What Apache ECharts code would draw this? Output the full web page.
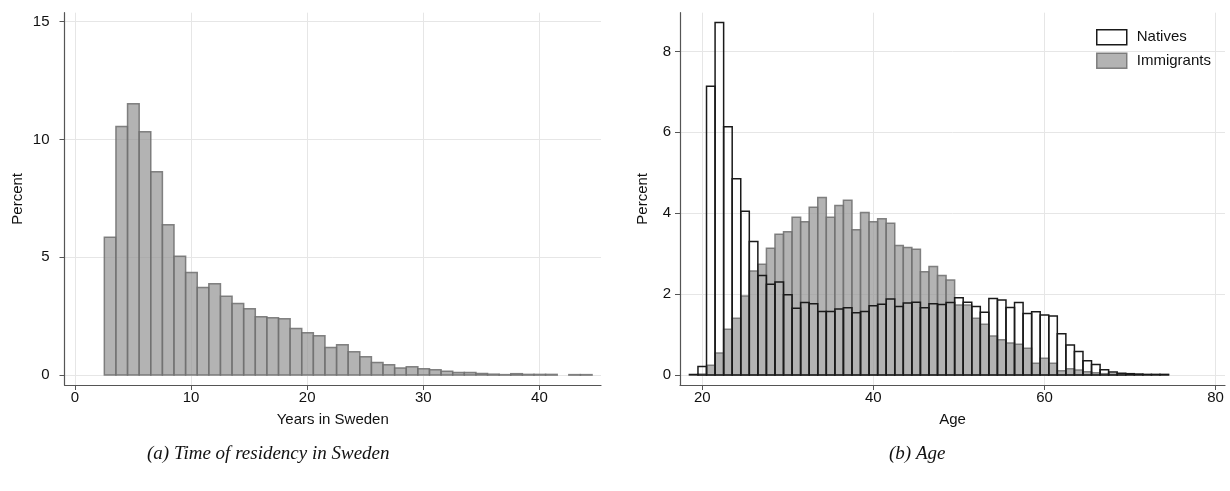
<!DOCTYPE html>
<html>
<head>
<meta charset="utf-8">
<script src="https://cdn.jsdelivr.net/npm/echarts@6/dist/echarts.min.js"></script>
<style>
html,body{margin:0;padding:0;background:#fff;}
#chart{width:1230px;height:491px;}
</style>
</head>
<body>
<div id="chart"></div>
<script>
// ---- Data ----
// (a) Time of residency: bins of width 1 year starting at 2.53 years
var residencyBinStart = 2.53;
var residencyBinWidth = 1;
var residencyPercent = [5.85, 10.55, 11.52, 10.33, 8.63, 6.38, 5.04, 4.35, 3.72, 3.88,
  3.35, 3.04, 2.82, 2.48, 2.43, 2.39, 1.98, 1.80, 1.67, 1.17,
  1.29, 0.99, 0.78, 0.54, 0.44, 0.30, 0.35, 0.27, 0.23, 0.16,
  0.11, 0.11, 0.07, 0.04, 0.02, 0.06, 0.03, 0.03, 0.03, 0,
  0.02, 0.02];

// (b) Age: one-year bins centred on each age
var ages = [19,20,21,22,23,24,25,26,27,28,29,30,31,32,33,34,35,36,37,38,39,40,41,42,43,44,45,46,
  47,48,49,50,51,52,53,54,55,56,57,58,59,60,61,62,63,64,65,66,67,68,69,70,71,72,73,74];
var nativesPercent = [0.01, 0.21, 7.14, 8.72, 6.14, 4.85, 4.05, 3.30, 2.46, 2.24, 2.30, 1.98, 1.65, 1.79,
  1.76, 1.57, 1.57, 1.63, 1.66, 1.54, 1.57, 1.71, 1.75, 1.88, 1.69, 1.78, 1.80, 1.66,
  1.76, 1.74, 1.79, 1.91, 1.80, 1.69, 1.55, 1.89, 1.85, 1.67, 1.79, 1.52, 1.56, 1.48,
  1.46, 1.02, 0.74, 0.58, 0.35, 0.26, 0.13, 0.07, 0.04, 0.03, 0.02, 0.01, 0.01, 0.01];
var immigrantsPercent = [0, 0.02, 0.24, 0.54, 1.13, 1.40, 1.95, 2.57, 2.74, 3.13, 3.48, 3.54, 3.90, 3.79,
  4.15, 4.39, 3.90, 4.19, 4.32, 3.59, 4.02, 3.79, 3.86, 3.75, 3.20, 3.15, 3.11, 2.55,
  2.68, 2.46, 2.35, 1.73, 1.73, 1.40, 1.25, 0.96, 0.87, 0.79, 0.76, 0.66, 0.29, 0.41,
  0.29, 0.10, 0.15, 0.12, 0.08, 0.05, 0.03, 0.02, 0.01, 0.01, 0.01, 0.01, 0.01, 0.01];

// tick labels
var residencyXTicks = [0, 10, 20, 30, 40];
var residencyYTicks = [0, 5, 10, 15];
var ageXTicks = [20, 40, 60, 80];
var ageYTicks = [0, 2, 4, 6, 8];

// ---- build histogram data ----
var residencyData = residencyPercent.map(function (v, i) {
  var x0 = residencyBinStart + i * residencyBinWidth;
  return [x0, x0 + residencyBinWidth, v];
});
var nativesData = ages.map(function (a, i) { return [a - 0.5, a + 0.5, nativesPercent[i]]; });
var immigrantsData = ages.map(function (a, i) { return [a - 0.5, a + 0.5, immigrantsPercent[i]]; });

function histRenderer(fill, stroke, lw) {
  return function (params, api) {
    var v = api.value(2);
    if (!v) return null;
    var p0 = api.coord([api.value(0), v]);
    var p1 = api.coord([api.value(1), 0]);
    return {
      type: 'rect',
      shape: { x: p0[0], y: p0[1], width: p1[0] - p0[0], height: p1[1] - p0[1] },
      style: { fill: fill, stroke: stroke, lineWidth: lw }
    };
  };
}

var FONT = 'Liberation Sans, Arial, sans-serif';
var labelStyle = { color: '#111', fontSize: 15, fontFamily: FONT };
var gridLine = { show: true, lineStyle: { color: '#e6e6e6', width: 1 } };
var axisLineStyle = { show: true, onZero: false, lineStyle: { color: '#555', width: 1.2 } };

function valueAxis(opts) {
  return Object.assign({
    type: 'value',
    axisLine: axisLineStyle,
    splitLine: gridLine,
    nameTextStyle: { color: '#111', fontSize: 15, fontFamily: FONT }
  }, opts);
}

var chart = echarts.init(document.getElementById('chart'), null, { renderer: 'canvas' });
chart.setOption({
  animation: false,
  backgroundColor: '#fff',
  grid: [
    { left: 64.5, top: 12.7, width: 536.5, height: 372.3 },
    { left: 680, top: 12.7, width: 545, height: 372.3 }
  ],
  xAxis: [
    valueAxis({
      gridIndex: 0, min: -0.9, max: 45.3,
      name: 'Years in Sweden', nameLocation: 'middle', nameGap: 27,
      axisTick: { show: true, length: 5, customValues: residencyXTicks, lineStyle: { color: '#555' } },
      axisLabel: Object.assign({ customValues: residencyXTicks, margin: 5 }, labelStyle)
    }),
    valueAxis({
      gridIndex: 1, min: 17.4, max: 81.1,
      name: 'Age', nameLocation: 'middle', nameGap: 27,
      axisTick: { show: true, length: 5, customValues: ageXTicks, lineStyle: { color: '#555' } },
      axisLabel: Object.assign({ customValues: ageXTicks, margin: 5 }, labelStyle)
    })
  ],
  yAxis: [
    valueAxis({
      gridIndex: 0, min: -0.42, max: 15.38,
      name: 'Percent', nameLocation: 'middle', nameGap: 39,
      axisTick: { show: true, length: 5, customValues: residencyYTicks, lineStyle: { color: '#555' } },
      axisLabel: Object.assign({ customValues: residencyYTicks, margin: 15 }, labelStyle)
    }),
    valueAxis({
      gridIndex: 1, min: -0.25, max: 8.96,
      name: 'Percent', nameLocation: 'middle', nameGap: 30,
      axisTick: { show: true, length: 5, customValues: ageYTicks, lineStyle: { color: '#555' } },
      axisLabel: Object.assign({ customValues: ageYTicks, margin: 9 }, labelStyle)
    })
  ],
  legend: {
    orient: 'vertical', left: 1091, top: 24,
    itemWidth: 30, itemHeight: 15, itemGap: 7,
    textStyle: { color: '#111', fontSize: 15, fontFamily: FONT, padding: [0, 0, 0, 5] },
    data: [
      { name: 'Natives', icon: 'rect', itemStyle: { color: '#ffffff', borderColor: '#1a1a1a', borderWidth: 1.5 } },
      { name: 'Immigrants', icon: 'rect', itemStyle: { color: 'rgba(150,150,150,0.72)', borderColor: 'rgba(110,110,110,0.85)', borderWidth: 1.5 } }
    ]
  },
  series: [
    {
      type: 'custom', name: 'Residency', xAxisIndex: 0, yAxisIndex: 0,
      encode: { x: [0, 1], y: 2 },
      renderItem: histRenderer('rgba(150,150,150,0.72)', 'rgba(110,110,110,0.85)', 1.5),
      data: residencyData
    },
    {
      type: 'custom', name: 'Immigrants', xAxisIndex: 1, yAxisIndex: 1,
      encode: { x: [0, 1], y: 2 },
      itemStyle: { color: 'rgba(150,150,150,0.72)' },
      renderItem: histRenderer('rgba(150,150,150,0.72)', 'rgba(110,110,110,0.85)', 1.5),
      data: immigrantsData, z: 2
    },
    {
      type: 'custom', name: 'Natives', xAxisIndex: 1, yAxisIndex: 1,
      encode: { x: [0, 1], y: 2 },
      itemStyle: { color: '#ffffff' },
      renderItem: histRenderer('rgba(0,0,0,0)', '#1a1a1a', 1.5),
      data: nativesData, z: 3
    }
  ],
  graphic: [
    { type: 'text', left: 147, top: 444, style: { text: '(a) Time of residency in Sweden', font: 'italic 19px "Liberation Serif", "DejaVu Serif", serif', fill: '#111' } },
    { type: 'text', left: 889, top: 444, style: { text: '(b) Age', font: 'italic 19px "Liberation Serif", "DejaVu Serif", serif', fill: '#111' } }
  ]
});
</script>
</body>
</html>
